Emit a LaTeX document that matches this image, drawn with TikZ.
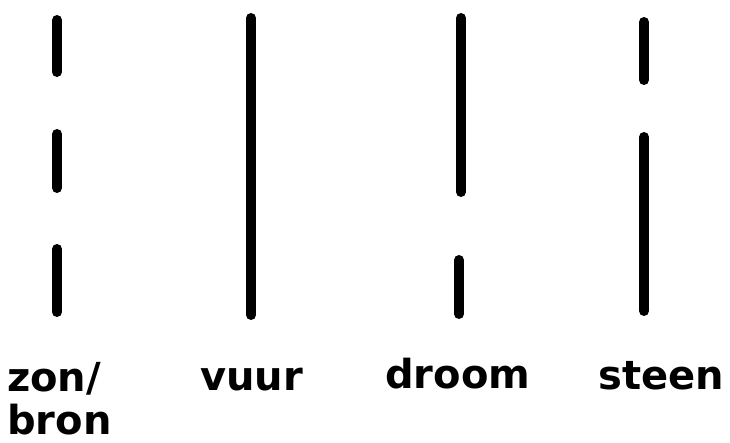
\documentclass[tikz,border=0pt]{standalone}
\usepackage{fontspec}
\setmainfont{DejaVu Sans}
\begin{document}
\begin{tikzpicture}[x=1pt,y=-1pt,
  bar/.style={line width=10pt,line cap=round,black},
  lbl/.style={anchor=base west,inner sep=0pt,font=\bfseries\fontsize{40}{48}\selectfont}]
\useasboundingbox (0,0) rectangle (730,443);
\fill[white] (0,0) rectangle (730,443);
% zon/bron
\draw[bar] (57,20) -- (57,72);
\draw[bar] (57,134) -- (57,188);
\draw[bar] (57,249) -- (57,312);
% vuur
\draw[bar] (251,18) -- (251,315);
% droom
\draw[bar] (461,18) -- (461,192);
\draw[bar] (459,260) -- (459,314);
% steen
\draw[bar] (644,22) -- (644,80);
\draw[bar] (644,137) -- (644,311);
% labels
\node[lbl] (zon) at (7,391) {zon/};
\node[lbl] (bron) at (7,434) {bron};
\node[lbl] (vuur) at (200,390) {vuur};
\node[lbl] (droom) at (385,388) {droom};
\node[lbl] (steen) at (598,389) {steen};
\end{tikzpicture}
\end{document}
